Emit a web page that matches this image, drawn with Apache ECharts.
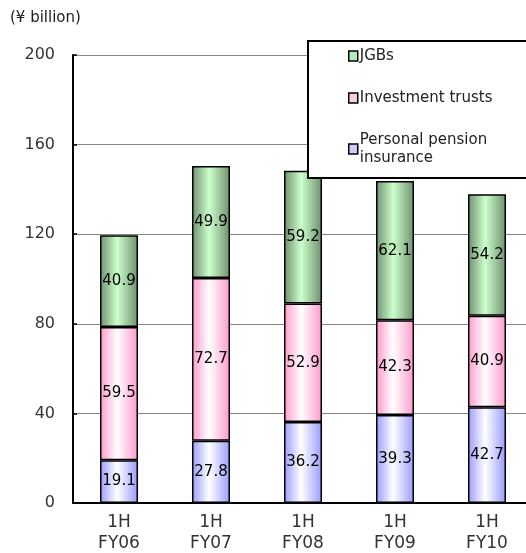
<!DOCTYPE html>
<html>
<head>
<meta charset="utf-8">
<script src="https://cdn.jsdelivr.net/npm/echarts@6/dist/echarts.min.js"></script>
<style>
  html, body { margin: 0; padding: 0; background: #fff; }
  #chart { width: 526px; height: 553px; }
</style>
</head>
<body>
<div id="chart"></div>
<script>
// values
var categories = ['1H\nFY06', '1H\nFY07', '1H\nFY08', '1H\nFY09', '1H\nFY10'];
var pensionValues = [19.1, 27.8, 36.2, 39.3, 42.7];
var trustValues = [59.5, 72.7, 52.9, 42.3, 40.9];
var jgbValues = [40.9, 49.9, 59.2, 62.1, 54.2];
var yTicks = [0, 40, 80, 120, 160, 200];

var FONT = 'DejaVu Sans';

function barFill(edge, mid) {
  return new echarts.graphic.LinearGradient(0, 0, 1, 0, [
    { offset: 0, color: edge },
    { offset: 0.45, color: mid },
    { offset: 1, color: edge }
  ]);
}

function makeSeries(name, values, edge, mid) {
  return {
    name: name,
    type: 'bar',
    stack: 'total',
    barWidth: 38,
    data: values,
    itemStyle: {
      color: barFill(edge, mid),
      borderColor: '#000',
      borderWidth: 1.5
    },
    label: {
      show: true,
      position: 'inside',
      color: '#000',
      fontFamily: FONT,
      fontSize: 15,
      formatter: function (p) { return p.value.toFixed(1); }
    },
    emphasis: { disabled: true }
  };
}

var chart = echarts.init(document.getElementById('chart'));

var option = {
  animation: false,
  grid: { left: 73, top: 55, width: 460, height: 448, outerBoundsMode: 'none', containLabel: false },
  graphic: [
    {
      type: 'text', left: 10, top: 11,
      style: { text: '(¥ billion)', fontFamily: FONT, fontSize: 15, fill: '#222' }
    },
    {
      type: 'rect', left: 307, top: 40, z: 10,
      shape: { width: 240, height: 137 },
      style: { fill: '#fff', stroke: '#000', lineWidth: 2 }
    }
  ],
  legend: {
    orient: 'vertical',
    left: 343, top: 42, z: 20,
    itemWidth: 9, itemHeight: 10,
    itemGap: 24,
    icon: 'rect',
    data: [
      { name: 'JGBs', itemStyle: { color: '#b8e8b8', borderColor: '#000', borderWidth: 1.5 } },
      { name: 'Investment trusts', itemStyle: { color: '#ffccdd', borderColor: '#000', borderWidth: 1.5 } },
      { name: 'Personal pension\ninsurance', itemStyle: { color: '#ccccff', borderColor: '#000', borderWidth: 1.5 } }
    ],
    textStyle: { fontFamily: FONT, fontSize: 15, color: '#222', lineHeight: 18, padding: [0, 0, 0, -3] },
    selectedMode: false
  },
  xAxis: {
    type: 'category',
    data: categories,
    axisLine: { lineStyle: { color: '#000', width: 2 } },
    axisTick: { inside: true, length: 5, lineStyle: { color: '#000', width: 1.5 } },
    axisLabel: { fontFamily: FONT, fontSize: 17, color: '#333', lineHeight: 21, margin: 9 }
  },
  yAxis: {
    type: 'value',
    min: yTicks[0],
    max: yTicks[yTicks.length - 1],
    interval: 40,
    axisLine: { show: true, lineStyle: { color: '#000', width: 2 } },
    axisTick: { show: true, inside: true, length: 4, lineStyle: { color: '#000', width: 1.5 } },
    axisLabel: { fontFamily: FONT, fontSize: 16, color: '#333', margin: 18 },
    splitLine: { lineStyle: { color: '#888', width: 1 } }
  },
  series: [
    makeSeries('Personal pension\ninsurance', pensionValues, '#9a9aff', '#ffffff'),
    makeSeries('Investment trusts', trustValues, '#ff99cc', '#ffffff'),
    makeSeries('JGBs', jgbValues, '#6e8f6e', '#ccffcc')
  ]
};

chart.setOption(option);
</script>
</body>
</html>
